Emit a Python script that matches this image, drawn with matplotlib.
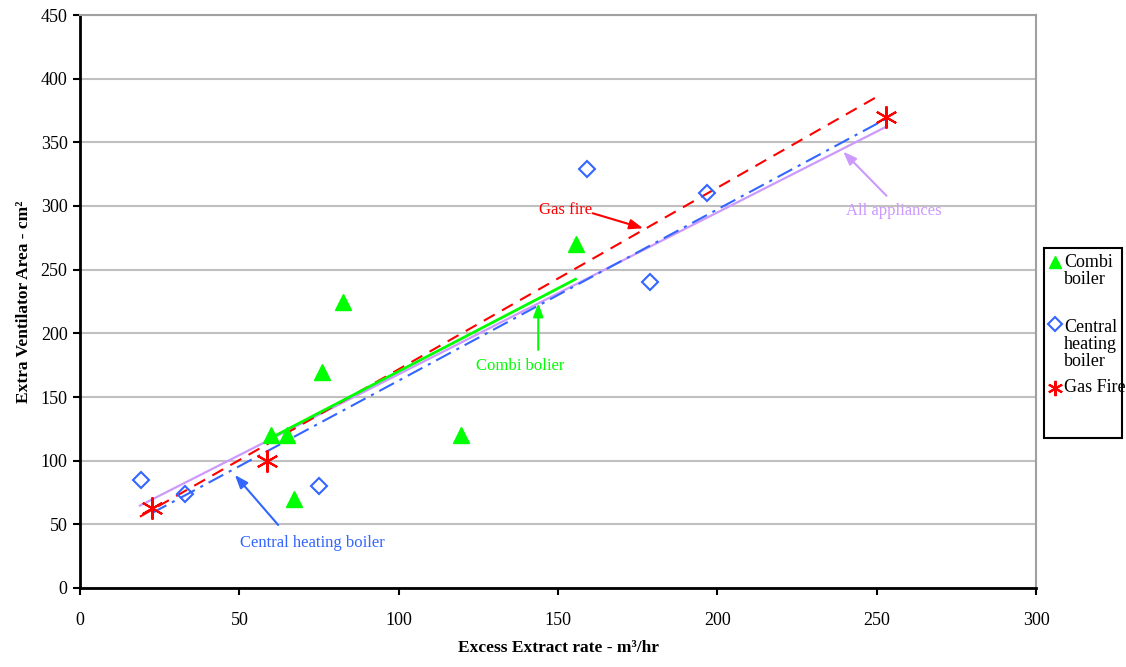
import matplotlib.pyplot as plt
from matplotlib.patches import Rectangle
from matplotlib.lines import Line2D

plt.rcParams['font.family'] = ['Liberation Serif', 'DejaVu Serif']

# measured points
combi_x = [60, 65, 67, 76, 82.5, 119.5, 155.6]
combi_y = [120, 120, 70, 170, 225, 120, 270]
central_x = [19, 33, 75, 159, 179, 196.7]
central_y = [85, 74, 80, 329, 240, 310]
gasfire_x = [22.6, 58.7, 253]
gasfire_y = [63, 100, 370]

# hand drawn trend lines (end points)
combi_fit_x = [60, 155.5]
combi_fit_y = [118, 242.5]
gasfire_fit_x = [18.8, 250.6]
gasfire_fit_y = [56, 386.5]
central_fit_x = [22.5, 252.6]
central_fit_y = [58.7, 368]
all_fit_x = [18.8, 253.1]
all_fit_y = [64.7, 362.4]

legend_labels = ['Combi\nboiler', 'Central\nheating\nboiler', 'Gas Fire']

GREEN = '#00ff00'
BLUE = '#3366ff'
RED = '#ff0000'
PURPLE = '#cc99ff'

W, H = 1126, 667
fig = plt.figure(figsize=(W / 100, H / 100), dpi=100)
ax = fig.add_axes([80 / W, 1 - 588 / H, 956 / W, 573 / H])

ax.set_xlim(0, 300)
ax.set_ylim(0, 450)
ax.set_xticks(range(0, 301, 50))
ax.set_yticks(range(0, 451, 50))
ax.yaxis.grid(True, color='#c0c0c0', lw=1.5)
ax.set_axisbelow(True)
for s in ['left', 'bottom']:
    ax.spines[s].set_linewidth(2)
    ax.spines[s].set_color('black')
for s in ['top', 'right']:
    ax.spines[s].set_linewidth(1.5)
    ax.spines[s].set_color('#a0a0a0')
ax.tick_params(axis='both', labelsize=13, width=1.5, length=5, direction='out')
ax.tick_params(axis='x', pad=12)
ax.tick_params(axis='y', pad=4)

ax.plot(all_fit_x, all_fit_y, color=PURPLE, lw=1.6)
ax.plot(central_fit_x, central_fit_y, color=BLUE, lw=1.5, ls=(0, (8, 3, 1.5, 3)))
ax.plot(gasfire_fit_x, gasfire_fit_y, color=RED, lw=1.5, ls=(0, (6, 4)))
ax.plot(combi_fit_x, combi_fit_y, color=GREEN, lw=2)

ax.plot(combi_x, combi_y, ls='none', marker='^', ms=11, color=GREEN, zorder=5)
ax.plot(central_x, central_y, ls='none', marker='D', ms=8, mfc='none', mec=BLUE, mew=1.5, zorder=5)
ax.plot(gasfire_x, gasfire_y, ls='none', marker=(6, 2, 0), ms=16, mec=RED, mew=1.5, zorder=5)

def note(text, xt, yt, start, tip, color):
    ax.text(xt, yt, text, color=color, fontsize=12, ha='center', va='center')
    ax.annotate('', xy=tip, xytext=start,
                arrowprops=dict(arrowstyle='-|>,head_length=0.8,head_width=0.3',
                                color=color, lw=1.5, shrinkA=0, shrinkB=0))

note('Gas fire', 152.5, 296.5, (160.9, 294.3), (176.7, 282.5), RED)
note('Combi bolier', 138, 174, (143.8, 187), (143.8, 223.6), GREEN)
note('Central heating boiler', 72.8, 35.3, (62.2, 49.5), (48.6, 88.8), BLUE)
note('All appliances', 255.4, 296, (253.1, 308), (239.5, 342.7), PURPLE)

ax.set_xlabel('Excess Extract rate - m\u00b3/hr', fontsize=12.5, fontweight='bold', labelpad=8)
ax.set_ylabel('Extra Ventilator Area - cm\u00b2', fontsize=12.5, fontweight='bold', labelpad=6)

# legend box, entries placed by hand like the original
fig.patches.append(Rectangle((1044 / W, 1 - 438 / H), 78 / W, 190 / H,
                             transform=fig.transFigure, fill=False, ec='black', lw=1.5))
legend_markers = [
    dict(marker='^', ms=9, color=GREEN, mec=GREEN),
    dict(marker='D', ms=7, mfc='none', mec=BLUE, mew=1.5),
    dict(marker=(6, 2, 0), ms=11, mec=RED, mew=1.5),
]
marker_y = [262, 324, 388]
text_y = [271.3, 344.8, 388]
for lab, mk, my, ty in zip(legend_labels, legend_markers, marker_y, text_y):
    fig.add_artist(Line2D([1055 / W], [1 - my / H], ls='none', transform=fig.transFigure, **mk))
    fig.text(1064 / W, 1 - ty / H, lab, fontsize=13, va='center', ha='left', linespacing=1.0)

fig.savefig('out.png', dpi=100)
